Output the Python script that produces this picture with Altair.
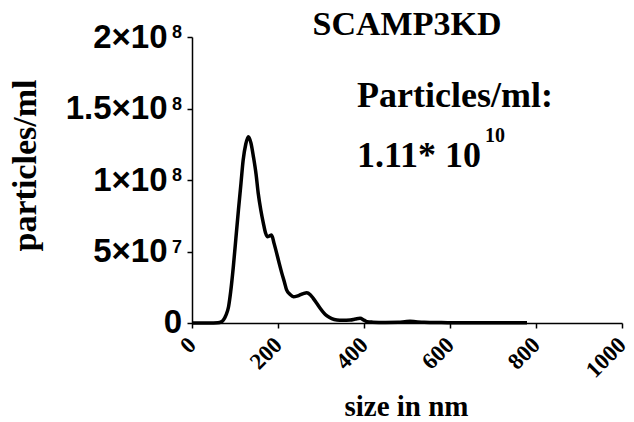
import altair as alt
import pandas as pd

# particle size (nm) and concentration (particles/ml, in millions)
size_nm = [0, 20, 40, 60, 68, 73, 79, 85, 90, 96, 102, 108, 114, 119, 125, 131, 137, 143, 149, 154,
           160, 166, 171, 175, 180, 185, 191, 197, 203, 209, 215, 220, 228, 236, 244, 251, 259, 267,
           275, 282, 290, 298, 306, 314, 325, 337, 350, 368, 380, 391, 400, 407, 420, 450, 480, 495,
           507, 520, 540, 580, 620, 660, 700, 740, 779]
conc_millions = [0, 0, 0, 0.2, 0.8, 2.1, 5.5, 11.4, 22, 39, 59, 79, 98, 114, 125, 130.3, 126, 116, 104, 90.7,
                 79, 69.7, 63, 60.4, 60.8, 61.5, 55.5, 48.7, 41.5, 34.7, 28.5, 23.1, 20, 18.4, 18.8, 19.6, 20.6, 21.2,
                 19.8, 17.2, 13.8, 10.3, 7.2, 4.9, 3, 2.1, 1.9, 2.1, 2.8, 3.3, 2, 0.9, 0.6, 0.4, 0.5, 0.9,
                 1.2, 0.9, 0.5, 0.3, 0.2, 0.2, 0.2, 0.2, 0.2]

x_ticks = [0, 200, 400, 600, 800, 1000]
y_ticks = [0, 50000000, 100000000, 150000000, 200000000]
y_tick_base = ["0", "5×10", "1×10", "1.5×10", "2×10"]
y_tick_exp = ["", "7", "8", "8", "8"]

title_text = "SCAMP3KD"
note_line1 = "Particles/ml:"
note_line2 = "1.11* 10"
note_exp = "10"

df = pd.DataFrame({"size": size_nm, "conc": [v * 1e6 for v in conc_millions]})
exp_df = pd.DataFrame({"conc": y_ticks, "e": y_tick_exp})
zero_df = pd.DataFrame({"conc": y_ticks[:1], "t": y_tick_base[:1]})

# axis labels carry the mantissa part; the plain "0" is drawn as its own text
label_expr = "''"
for v, base, e in zip(reversed(y_ticks), reversed(y_tick_base), reversed(y_tick_exp)):
    lab = base if e else ""
    label_expr = f"datum.value == {v} ? '{lab}' : ({label_expr})"

W, H = 430, 286

y_enc = alt.Y("conc:Q", scale=alt.Scale(domain=[0, 2e8], nice=False),
              axis=alt.Axis(values=y_ticks, labelExpr=label_expr, title="particles/ml", grid=False,
                            labelFont="Liberation Sans", labelFontWeight="bold", labelFontSize=33,
                            labelPadding=20, labelColor="black",
                            titleFont="Liberation Serif", titleFontWeight="bold", titleFontSize=34,
                            titleX=-150, titleY=128, titleColor="black", titleAnchor="middle",
                            tickSize=5, tickColor="black", domainColor="black", domainWidth=1.5,
                            tickWidth=1.5))

line = alt.Chart(df).mark_line(color="black", strokeWidth=3.5, interpolate="monotone").encode(
    x=alt.X("size:Q", scale=alt.Scale(domain=[0, 1000], nice=False),
            axis=alt.Axis(values=x_ticks, format="d", title="size in nm", grid=False,
                          labelFont="Liberation Serif", labelFontWeight="bold", labelFontSize=23,
                          labelAngle=-45, labelAlign="right", labelBaseline="middle", labelPadding=13,
                          titleFont="Liberation Serif", titleFontWeight="bold", titleFontSize=29,
                          titleX=214, titleY=92, titleBaseline="alphabetic", titleAnchor="middle",
                          tickSize=5, tickColor="black", domainColor="black", domainWidth=1.5,
                          tickWidth=1.5, labelColor="black", titleColor="black")),
    y=y_enc,
)

exps = alt.Chart(exp_df).mark_text(
    font="Liberation Sans", fontWeight="bold", fontSize=18, align="left", baseline="top",
    dy=-13, color="black"
).encode(x=alt.value(-20), y=y_enc, text="e:N")

zero_lab = alt.Chart(zero_df).mark_text(
    font="Liberation Sans", fontWeight="bold", fontSize=33, align="right", baseline="middle",
    color="black"
).encode(x=alt.value(-10), y=y_enc, text="t:N")

def txt(s, x, y, size, align="left"):
    return alt.Chart(pd.DataFrame({"t": [s]})).mark_text(
        font="Liberation Serif", fontWeight="bold", fontSize=size, align=align,
        baseline="alphabetic", color="black"
    ).encode(text="t:N", x=alt.value(x), y=alt.value(y))

chart = alt.layer(
    line,
    exps,
    zero_lab,
    txt(title_text, 215, -2, 34, "center"),
    txt(note_line1, 165, 70, 36),
    txt(note_line2, 165, 130, 36),
    txt(note_exp, 293, 105, 20),
).properties(
    width=W, height=H,
    autosize=alt.AutoSizeParams(type="none"),
    padding={"left": 192, "top": 37, "right": 12, "bottom": 99},
    background="white",
).configure_view(stroke=None)

chart.save("out.html", embed_options={"renderer": "svg", "actions": False})
